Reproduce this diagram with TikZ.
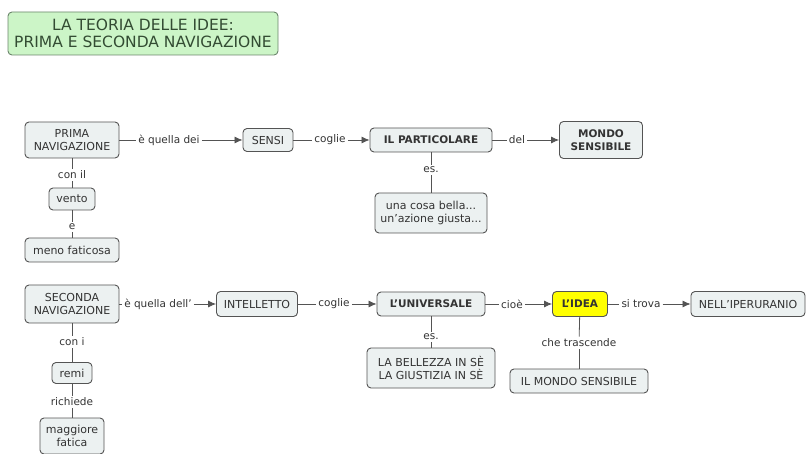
\documentclass[tikz,border=0pt]{standalone}
\usepackage{fontspec}
\setmainfont{DejaVu Sans}
\usepackage{tikz}
\usetikzlibrary{arrows.meta}
\definecolor{nodefill}{rgb}{0.925,0.945,0.945}
\definecolor{nodeline}{rgb}{0.33,0.33,0.33}
\definecolor{titlefill}{rgb}{0.8,0.96,0.78}
\definecolor{titleline}{rgb}{0.42,0.52,0.42}
\definecolor{titletext}{rgb}{0.2,0.3,0.2}
\definecolor{ideafill}{rgb}{1.,1.,0.}
\definecolor{textgray}{rgb}{0.2,0.2,0.2}
\tikzset{
	concept/.style={draw=nodeline,fill=nodefill,rounded corners=4pt,line width=0.9pt,align=center,text=textgray,inner sep=0pt,font=\fontsize{11}{13.5}\selectfont},
	linkname/.style={text=textgray,inner sep=2pt,font=\fontsize{10.5}{13}\selectfont},
	conn/.style={draw=nodeline,line width=0.8pt},
	arr/.style={conn,-{Latex[length=8pt,width=7pt]}}
}

\begin{document}
\begin{tikzpicture}[x=1pt,y=-1pt]
			\useasboundingbox (0,0) rectangle (806,454);
			\node[concept,fill=titlefill,draw=titleline,text=titletext,minimum width=270,minimum height=43,font=\fontsize{15.5}{17}\selectfont] (titolo) at (143,33.5) {LA TEORIA DELLE IDEE:\\PRIMA E SECONDA NAVIGAZIONE};
			% prima navigazione
			\node[concept,minimum width=94,minimum height=36] (prima) at (72,140) {PRIMA\\NAVIGAZIONE};
			\node[linkname] (lquelladei) at (169,140) {è quella dei};
			\node[concept,minimum width=50,minimum height=23] (sensi) at (268,140) {SENSI};
			\node[linkname] (lcoglie) at (330,140) {coglie};
			\node[concept,minimum width=122,minimum height=24,font=\fontsize{10.5}{13}\selectfont\bfseries] (particolare) at (431,140) {IL PARTICOLARE};
			\node[linkname] (ldel) at (517,140) {del};
			\node[concept,minimum width=83,minimum height=37,font=\fontsize{10.5}{13}\selectfont\bfseries] (mondo) at (601,140) {MONDO\\SENSIBILE};
			\node[linkname] (les) at (431,170) {es.};
			\node[concept,minimum width=112,minimum height=40] (cosabella) at (431,213) {una cosa bella...\\un'azione giusta...};
			\node[linkname] (lconil) at (72,175) {con il};
			\node[concept,minimum width=46,minimum height=22] (vento) at (72,199) {vento};
			\node[linkname] (le) at (72,227) {e};
			\node[concept,minimum width=94,minimum height=24] (meno) at (72,250) {meno faticosa};
			\draw[conn] (prima) -- (lquelladei);
			\draw[arr] (lquelladei) -- (sensi);
			\draw[conn] (sensi) -- (lcoglie);
			\draw[arr] (lcoglie) -- (particolare);
			\draw[conn] (particolare) -- (ldel);
			\draw[arr] (ldel) -- (mondo);
			\draw[conn] (particolare) -- (les);
			\draw[conn] (les) -- (cosabella);
			\draw[conn] (prima) -- (lconil);
			\draw[conn] (lconil) -- (vento);
			\draw[conn] (vento) -- (le);
			\draw[conn] (le) -- (meno);
			% seconda navigazione
			\node[concept,minimum width=94,minimum height=38] (seconda) at (72,304) {SECONDA\\NAVIGAZIONE};
			\node[linkname] (lquelladell) at (158,304) {è quella dell'};
			\node[concept,minimum width=81,minimum height=25] (intelletto) at (257,304) {INTELLETTO};
			\node[linkname] (lcoglie2) at (334,304) {coglie};
			\node[concept,minimum width=108,minimum height=24,font=\fontsize{10.5}{13}\selectfont\bfseries] (universale) at (431,304) {L'UNIVERSALE};
			\node[linkname] (lcioe) at (512,304) {cioè};
			\node[concept,fill=ideafill,minimum width=55,minimum height=25,font=\fontsize{10.5}{13}\selectfont\bfseries] (idea) at (580,304) {L'IDEA};
			\node[linkname] (lsitrova) at (641,304) {si trova};
			\node[concept,minimum width=114,minimum height=25] (iperuranio) at (748,304) {NELL'IPERURANIO};
			\node[linkname] (les2) at (431,337) {es.};
			\node[concept,minimum width=128,minimum height=40] (bellezza) at (431,368) {LA BELLEZZA IN SÈ\\LA GIUSTIZIA IN SÈ};
			\node[linkname] (ltrascende) at (579,343) {che trascende};
			\node[concept,minimum width=138,minimum height=24] (mondo2) at (579,381) {IL MONDO SENSIBILE};
			\node[linkname] (lconi) at (72,342) {con i};
			\node[concept,minimum width=40,minimum height=21] (remi) at (72,373) {remi};
			\node[linkname] (lrichiede) at (72,402) {richiede};
			\node[concept,minimum width=64,minimum height=36] (maggiore) at (72,436) {maggiore\\fatica};
			\draw[conn] (seconda) -- (lquelladell);
			\draw[arr] (lquelladell) -- (intelletto);
			\draw[conn] (intelletto) -- (lcoglie2);
			\draw[arr] (lcoglie2) -- (universale);
			\draw[conn] (universale) -- (lcioe);
			\draw[arr] (lcioe) -- (idea);
			\draw[conn] (idea) -- (lsitrova);
			\draw[arr] (lsitrova) -- (iperuranio);
			\draw[conn] (universale) -- (les2);
			\draw[conn] (les2) -- (bellezza);
			\draw[conn] (idea) -- (ltrascende);
			\draw[conn] (ltrascende) -- (mondo2);
			\draw[conn] (seconda) -- (lconi);
			\draw[conn] (lconi) -- (remi);
			\draw[conn] (remi) -- (lrichiede);
			\draw[conn] (lrichiede) -- (maggiore);
			\end{tikzpicture}
\end{document}
